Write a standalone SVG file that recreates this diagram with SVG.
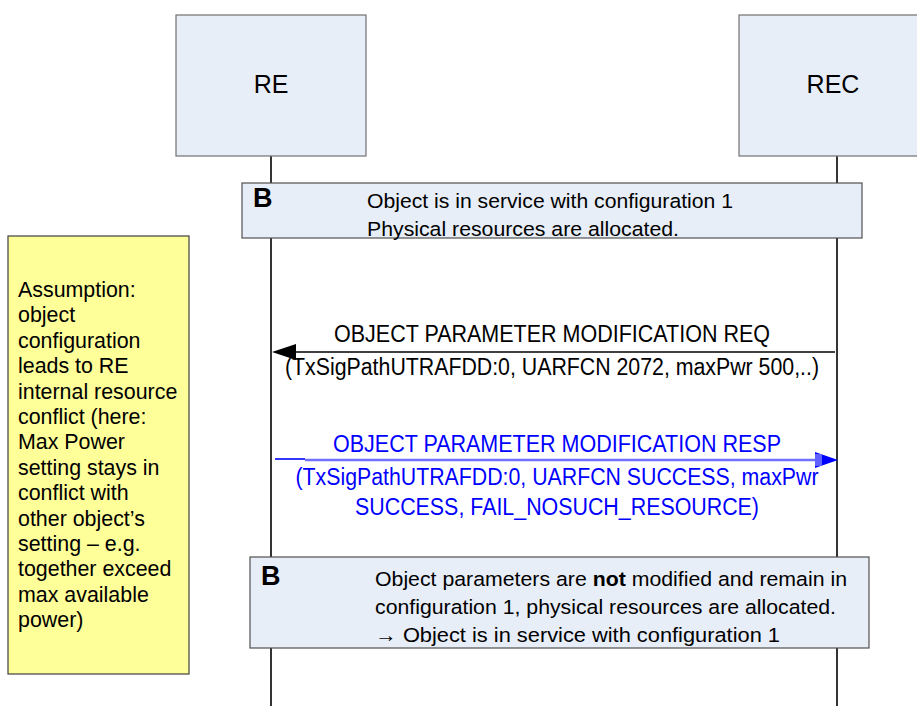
<svg xmlns="http://www.w3.org/2000/svg" width="917" height="706" viewBox="0 0 917 706">
<style>
.ent{fill:#E8EEF8;stroke:#707070;stroke-width:1.2}
.note{fill:#E8EEF8;stroke:#505050;stroke-width:1.2}
.life{stroke:#000;stroke-width:1.6;fill:none}
.t{font-family:"Liberation Sans",Arial,sans-serif;fill:#000}
.ttl{font-size:25px}
.b{font-size:27px;font-weight:bold}
.s{font-size:20.5px}
.y{font-size:21.4px}
.m{font-size:23px}
.blue{fill:#0000FF}
</style>
<rect width="917" height="706" fill="#fff"/>
<g id="lifelines">
<line class="life" x1="271" y1="156" x2="271" y2="706"/>
<line class="life" x1="837" y1="156" x2="837" y2="706"/>
</g>
<g id="RE">
<rect class="ent" x="176" y="15" width="190" height="141"/>
<text class="t ttl" x="271" y="93" text-anchor="middle">RE</text>
</g>
<g id="REC">
<rect class="ent" x="739" y="15" width="190" height="141"/>
<text class="t ttl" x="833" y="93" text-anchor="middle">REC</text>
</g>
<g id="state1">
<rect class="note" x="242" y="183" width="620" height="55"/>
<text class="t b" x="253" y="207">B</text>
<text class="t s" x="367" y="208" textLength="366" lengthAdjust="spacingAndGlyphs">Object is in service with configuration 1</text>
<text class="t s" x="367" y="236" textLength="312" lengthAdjust="spacingAndGlyphs">Physical resources are allocated.</text>
</g>
<g id="assumption">
<rect x="8" y="236" width="181" height="438" fill="#FFFF99" stroke="#404040" stroke-width="1.2"/>
<text class="t y">
<tspan x="18" y="297">Assumption:</tspan>
<tspan x="18" y="322">object</tspan>
<tspan x="18" y="348">configuration</tspan>
<tspan x="18" y="373">leads to RE</tspan>
<tspan x="18" y="399">internal resource</tspan>
<tspan x="18" y="424">conflict (here:</tspan>
<tspan x="18" y="449">Max Power</tspan>
<tspan x="18" y="475">setting stays in</tspan>
<tspan x="18" y="500">conflict with</tspan>
<tspan x="18" y="526">other object’s</tspan>
<tspan x="18" y="551">setting – e.g.</tspan>
<tspan x="18" y="576">together exceed</tspan>
<tspan x="18" y="602">max available</tspan>
<tspan x="18" y="627">power)</tspan>
</text>
</g>
<g id="connectors">
<line x1="835" y1="352" x2="296" y2="352" stroke="#000" stroke-width="1.6"/>
<path d="M272,352 L296,344 L296,360 Z" fill="#000"/>
<line x1="275" y1="459" x2="305" y2="459" stroke="#0000FF" stroke-width="1.6"/>
<line x1="305" y1="460" x2="815" y2="460" stroke="#7070FF" stroke-width="2.4"/>
<path d="M838,460 L815,452 L815,468 Z" fill="#0000FF"/>
<path d="M815,454 L822,454 L822,466 L815,466 Z" fill="#6060FF"/>
</g>
<g id="labels">
<text class="t m" x="552" y="342" text-anchor="middle" textLength="436" lengthAdjust="spacingAndGlyphs">OBJECT PARAMETER MODIFICATION REQ</text>
<text class="t m" x="552" y="375" text-anchor="middle" textLength="534" lengthAdjust="spacingAndGlyphs">(TxSigPathUTRAFDD:0, UARFCN 2072, maxPwr 500,..)</text>
<text class="t m blue" x="557" y="452" text-anchor="middle" textLength="448" lengthAdjust="spacingAndGlyphs">OBJECT PARAMETER MODIFICATION RESP</text>
<text class="t m blue" x="557" y="485" text-anchor="middle" textLength="523" lengthAdjust="spacingAndGlyphs">(TxSigPathUTRAFDD:0, UARFCN SUCCESS, maxPwr</text>
<text class="t m blue" x="557" y="515" text-anchor="middle" textLength="404" lengthAdjust="spacingAndGlyphs">SUCCESS, FAIL_NOSUCH_RESOURCE)</text>
</g>
<g id="state2">
<rect class="note" x="250" y="557" width="619" height="91"/>
<text class="t b" x="261" y="585">B</text>
<text class="t s" x="375" y="586" textLength="472" lengthAdjust="spacingAndGlyphs">Object parameters are <tspan font-weight="bold">not</tspan> modified and remain in</text>
<text class="t s" x="375" y="614" textLength="461" lengthAdjust="spacingAndGlyphs">configuration 1, physical resources are allocated.</text>
<text class="t s" x="375" y="642" textLength="405" lengthAdjust="spacingAndGlyphs">→ Object is in service with configuration 1</text>
</g>
</svg>
